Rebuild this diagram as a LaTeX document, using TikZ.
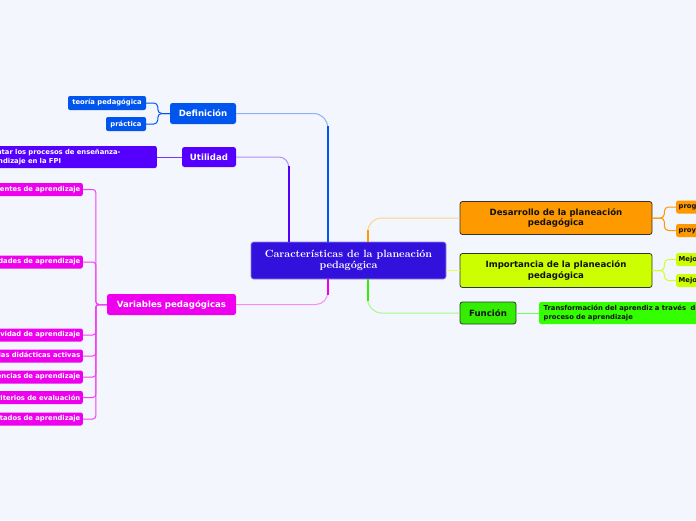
\documentclass[tikz,border=0pt]{standalone}
\usepackage{fontspec}
\newfontfamily\mmfont{DejaVu Sans}
\usetikzlibrary{calc}
\definecolor{bg}{HTML}{F3F6FD}
\definecolor{ccen}{HTML}{3311DD}
\definecolor{ccenb}{HTML}{8F80EE}
\definecolor{cblue}{HTML}{0055EE}
\definecolor{cviol}{HTML}{5500FF}
\definecolor{cmag}{HTML}{EE00EE}
\definecolor{corg}{HTML}{FF9900}
\definecolor{cyel}{HTML}{CCFF00}
\definecolor{cgrn}{HTML}{33EE00}
\definecolor{cgrn2}{HTML}{33FF00}
\definecolor{cdark}{HTML}{333333}
\definecolor{ctxt}{HTML}{111111}
\begin{document}
\begin{tikzpicture}[x=1pt,y=-1pt,
  mainbox/.style={rounded corners=2.5pt, inner sep=0pt, font=\mmfont\fontsize{8.6}{10.5}\selectfont\bfseries, text=white, align=center},
  leafbox/.style={rounded corners=2pt, inner sep=0pt, inner xsep=2.5pt, font=\mmfont\fontsize{6.8}{8.5}\selectfont\bfseries, text=white},
  darkbox/.style={mainbox, draw=cdark, line width=0.8pt, text=ctxt},
  leftleaf/.style={leafbox, fill=cmag, anchor=east, minimum height=13, text width=130, align=right},
  rightleaf/.style={leafbox, anchor=west, minimum height=13, text width=100, align=left, text=ctxt},
  conn/.style={line width=1pt, rounded corners=#1},
  strong/.style={line width=1.6pt}]
\useasboundingbox (0,0) rectangle (696,520);
\fill[bg] (0,0) rectangle (696,520);
\begin{scope}
\clip (0,0) rectangle (696,520);
% center
\node[mainbox, fill=ccen, draw=ccenb, line width=0.6pt, minimum width=195, minimum height=37,
  font=\rmfamily\fontsize{10.5}{11.7}\selectfont\bfseries] (c) at (348.5,260.5) {Características de la planeación\\pedagógica};
% left main branches
\node[mainbox, fill=cblue, minimum width=66, minimum height=21] (def) at (203,113.5) {Definición};
\node[mainbox, fill=cviol, minimum width=54, minimum height=20] (uti) at (209,157) {Utilidad};
\node[mainbox, fill=cmag, minimum width=129, minimum height=21] (var) at (171.5,304.5) {Variables pedagógicas};
% left leaves
\node[leafbox, fill=cblue, minimum width=78, minimum height=14] (teo) at (107,103) {teoría pedagógica};
\node[leafbox, fill=cblue, minimum width=40, minimum height=14] (pra) at (126,124) {práctica};
\node[leafbox, fill=cviol, anchor=east, minimum height=22, text width=173, inner xsep=3pt, align=left,
  font=\mmfont\fontsize{6.8}{9}\selectfont\bfseries] (ori) at (157,157) {Orientar los procesos de enseñanza-\\aprendizaje en la FPI};
\node[leftleaf] (v1) at (83,189.5) {Ambientes de aprendizaje};
\node[leftleaf] (v2) at (83,262) {Necesidades de aprendizaje};
\node[leftleaf] (v3) at (83,335) {Actividad de aprendizaje};
\node[leftleaf] (v4) at (83,356) {Estrategias didácticas activas};
\node[leftleaf] (v5) at (83,377) {Evidencias de aprendizaje};
\node[leftleaf] (v6) at (83,397.5) {Criterios de evaluación};
\node[leftleaf] (v7) at (83,419) {Resultados de aprendizaje};
% right main branches
\node[darkbox, fill=corg, minimum width=192, minimum height=33] (des) at (556,218) {Desarrollo de la planeación\\pedagógica};
\node[darkbox, fill=cyel, minimum width=192, minimum height=34] (imp) at (556,270.5) {Importancia de la planeación\\pedagógica};
\node[darkbox, fill=cgrn, minimum width=56, minimum height=22] (fun) at (488,313) {Función};
% right leaves
\node[rightleaf, fill=corg] (r1) at (676,207) {programa de formación};
\node[rightleaf, fill=corg] (r2) at (676,230.5) {proyecto formativo};
\node[rightleaf, fill=cyel] (r3) at (676,259.5) {Mejora la calidad};
\node[rightleaf, fill=cyel] (r4) at (676,280.5) {Mejora los procesos};
\node[leafbox, fill=cgrn2, anchor=west, minimum height=22, text width=200, inner xsep=4.5pt, align=left, text=ctxt,
  font=\mmfont\fontsize{6.8}{9}\selectfont\bfseries] (tra) at (539,313) {Transformación del aprendiz a través \ del\\proceso de aprendizaje};
% center connectors
\coordinate (pb) at ($(c.north west)+(77,0)$);
\coordinate (pv) at ($(c.north west)+(38,0)$);
\coordinate (pm) at ($(c.south west)+(77,0)$);
\coordinate (po) at ($(c.north west)+(117,0)$);
\coordinate (pg) at ($(c.south west)+(117,0)$);
\draw[conn=14pt, cblue!45] (pb) |- (def.east);
\draw[strong, cblue] (pb) -- ($(pb |- def.east)+(0,12)$);
\draw[conn=10pt, cviol!45] (pv) |- (uti.east);
\draw[strong, cviol] (pv) -- ($(pv |- uti.east)+(0,9)$);
\draw[conn=12pt, cmag!45] (pm) |- (var.east);
\draw[strong, cmag] (pm) -- ($(pm |- var.east)+(0,-10)$);
\draw[conn=14pt, corg!45] (po) |- (des.west);
\draw[strong, corg] (po) -- ($(po |- des.west)+(0,12)$);
\draw[line width=1pt, cyel!60!white] (imp.west -| c.east) -- (imp.west);
\draw[conn=14pt, cgrn!45] (pg) |- (fun.west);
\draw[strong, cgrn] (pg) -- ($(pg |- fun.west)+(0,-12)$);
% leaf connectors
\draw[conn=4pt, cblue, line width=1pt] (def.west) -- ++(-12,0) |- (teo.east);
\draw[conn=4pt, cblue, line width=1pt] (def.west) -- ++(-12,0) |- (pra.east);
\draw[line width=1pt, cviol!80!white] (uti.west) -- (ori.east);
\foreach \v in {v1,v2,v3,v4,v5,v6,v7}{
  \draw[conn=3pt, cmag!75!white, line width=1pt] (var.west) -- ++(-11,0) |- (\v.east);
}
\draw[conn=4pt, corg, line width=1pt] (des.east) -- ++(12,0) |- (r1.west);
\draw[conn=4pt, corg, line width=1pt] (des.east) -- ++(12,0) |- (r2.west);
\draw[conn=4pt, cyel!85!white, line width=1pt] (imp.east) -- ++(12,0) |- (r3.west);
\draw[conn=4pt, cyel!85!white, line width=1pt] (imp.east) -- ++(12,0) |- (r4.west);
\draw[line width=1pt, cgrn2!70!white] (fun.east) -- (tra.west);
\end{scope}
\end{tikzpicture}
\end{document}
